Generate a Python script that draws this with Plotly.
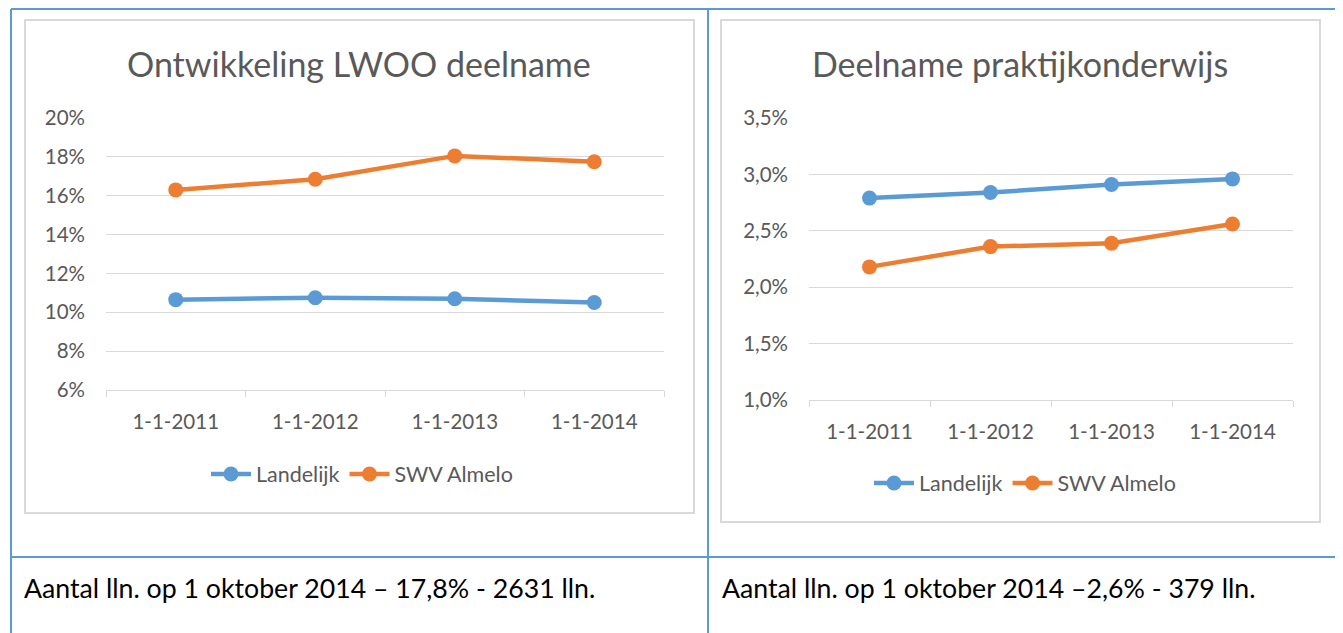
import plotly.graph_objects as go

W, H = 1343, 633
OFF = 8  # body margin of the html page

categories = ["1-1-2011", "1-1-2012", "1-1-2013", "1-1-2014"]
lwoo_landelijk = [10.65, 10.75, 10.7, 10.5]
lwoo_swv = [16.3, 16.85, 18.05, 17.75]
pro_landelijk = [2.79, 2.84, 2.91, 2.96]
pro_swv = [2.18, 2.36, 2.39, 2.56]
series_names = ["Landelijk", "SWV Almelo"]
title_left = "Ontwikkeling LWOO deelname"
title_right = "Deelname praktijkonderwijs"
note_left = "Aantal lln. op 1 oktober 2014 – 17,8% - 2631 lln."
note_right = "Aantal lln. op 1 oktober 2014 –2,6% - 379 lln."

BLUE = "#5B9BD5"
ORANGE = "#ED7D31"
GRID = "#D9D9D9"
TXT = "#595959"
FONT = "Lato, Carlito, sans-serif"


def px(x):
    return (x - OFF) / W


def py(y):
    return 1 - (y - OFF) / H


fig = go.Figure()

for vals, name, col in [(lwoo_landelijk, series_names[0], BLUE), (lwoo_swv, series_names[1], ORANGE)]:
    fig.add_trace(go.Scatter(x=categories, y=vals, name=name, mode="lines+markers",
                             line=dict(color=col, width=4.5), marker=dict(color=col, size=15),
                             xaxis="x", yaxis="y", legend="legend"))
for vals, name, col in [(pro_landelijk, series_names[0], BLUE), (pro_swv, series_names[1], ORANGE)]:
    fig.add_trace(go.Scatter(x=categories, y=vals, name=name, mode="lines+markers",
                             line=dict(color=col, width=4.5), marker=dict(color=col, size=15),
                             xaxis="x2", yaxis="y2", legend="legend2"))

xcommon = dict(type="category", showgrid=False, showline=True, linecolor=GRID, linewidth=1,
               ticks="outside", tickson="boundaries", ticklen=6, tickcolor=GRID,
               tickfont=dict(family=FONT, size=20.5, color=TXT), range=[-0.5, 3.5],
               ticklabelstandoff=13, zeroline=False, fixedrange=True, automargin=False)
ycommon = dict(showgrid=True, gridcolor=GRID, gridwidth=1, showline=False, zeroline=False,
               ticks="", tickfont=dict(family=FONT, size=20.5, color=TXT), ticksuffix="%",
               ticklabelstandoff=20, fixedrange=True, automargin=False)

legend_common = dict(orientation="h", xanchor="center", yanchor="middle",
                     font=dict(family=FONT, size=21.5, color=TXT), bgcolor="rgba(0,0,0,0)",
                     itemwidth=40, tracegroupgap=0)

fig.update_layout(
    width=W, height=H, autosize=False,
    margin=dict(l=0, r=0, t=0, b=0, pad=0, autoexpand=False),
    paper_bgcolor="white", plot_bgcolor="white",
    separators=",.",
    xaxis=dict(domain=[px(106), px(664)], anchor="y", **xcommon),
    yaxis=dict(domain=[py(390), py(118)], anchor="x", range=[6, 20], dtick=2,
               tickformat=".0f", **ycommon),
    xaxis2=dict(domain=[px(809), px(1293)], anchor="y2", **xcommon),
    yaxis2=dict(domain=[py(400), py(118)], anchor="x2", range=[1.0, 3.5], dtick=0.5,
                tickformat=".1f", **ycommon),
    legend=dict(x=px(362), y=py(474), **legend_common),
    legend2=dict(x=px(1025), y=py(483), **legend_common),
    showlegend=True,
)

shapes = []
# chart boxes
shapes.append(dict(type="rect", xref="paper", yref="paper", x0=px(25), x1=px(694), y0=py(513), y1=py(20),
                   line=dict(color=GRID, width=2), layer="below"))
shapes.append(dict(type="rect", xref="paper", yref="paper", x0=px(721), x1=px(1320), y0=py(522), y1=py(20),
                   line=dict(color=GRID, width=2), layer="below"))
# table borders
for x0, y0, x1, y1 in [(11, 9, 1337, 9), (11, 9, 11, 645), (708, 9, 708, 645), (1337, 9, 1337, 645),
                       (11, 557, 1337, 557)]:
    shapes.append(dict(type="line", xref="paper", yref="paper", x0=px(x0), x1=px(x1), y0=py(y0), y1=py(y1),
                       line=dict(color=BLUE, width=2)))
fig.update_layout(shapes=shapes)

annotations = [
    dict(text=title_left, x=px(359), y=py(64), xref="paper", yref="paper", showarrow=False,
         xanchor="center", yanchor="middle", font=dict(family=FONT, size=34, color=TXT)),
    dict(text=title_right, x=px(1020), y=py(64), xref="paper", yref="paper", showarrow=False,
         xanchor="center", yanchor="middle", font=dict(family=FONT, size=34, color=TXT)),
    dict(text=note_left, x=px(22), y=py(588), xref="paper", yref="paper", showarrow=False,
         xanchor="left", yanchor="middle", font=dict(family=FONT, size=26.7, color="#000000")),
    dict(text=note_right, x=px(720), y=py(588), xref="paper", yref="paper", showarrow=False,
         xanchor="left", yanchor="middle", font=dict(family=FONT, size=26.7, color="#000000")),
]
fig.update_layout(annotations=annotations)

fig.write_html("out.html")
